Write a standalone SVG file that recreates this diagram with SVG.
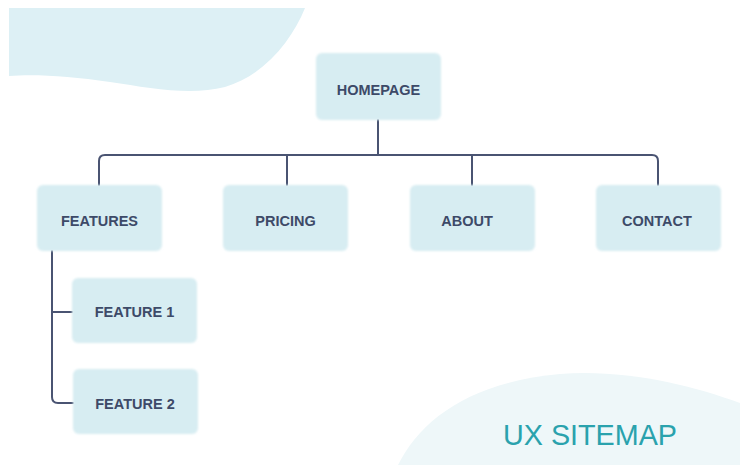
<svg xmlns="http://www.w3.org/2000/svg" width="740" height="465" viewBox="0 0 740 465">
<defs>
<filter id="soft" x="-10%" y="-10%" width="120%" height="120%"><feGaussianBlur stdDeviation="0.9"/></filter>
<style>
.box{fill:#d7edf2;filter:url(#soft)}
.lbl{font-family:"Liberation Sans",Arial,sans-serif;font-weight:bold;font-size:14.5px;fill:#3d4a68;text-anchor:middle}
.wire{fill:none;stroke:#4a5472;stroke-width:2;stroke-linecap:round}
</style>
</defs>
<rect width="740" height="465" fill="#ffffff"/>
<path d="M9,8 L305,8 C292,40 265,75 225,87 C190,96 150,88 110,82 C70,76 35,74 9,76 Z" fill="#ddf0f5"/>
<path d="M398,465 C420,420 470,382 560,374 C625,369 690,385 740,403 L740,465 Z" fill="#eef7f9"/>
<text x="503" y="445" font-family="'Liberation Sans',Arial,sans-serif" font-size="30" fill="#2aa2ad" textLength="174" lengthAdjust="spacingAndGlyphs">UX SITEMAP</text>
<g id="connectors">
<path class="wire" d="M378,120 V155"/>
<path class="wire" d="M99,185 V161 Q99,155 105,155 H652 Q658,155 658,161 V185"/>
<path class="wire" d="M287,155 V185"/>
<path class="wire" d="M472,155 V185"/>
<path class="wire" d="M52,251 V397 Q52,403 58,403 H73"/>
<path class="wire" d="M52,312 H72"/>
</g>
<g id="homepage"><rect class="box" x="316" y="53" width="125" height="67" rx="6"/><text class="lbl" x="378.5" y="95">HOMEPAGE</text></g>
<g id="features"><rect class="box" x="37" y="185" width="125" height="66" rx="6"/><text class="lbl" x="99.5" y="226">FEATURES</text></g>
<g id="pricing"><rect class="box" x="223" y="185" width="125" height="66" rx="6"/><text class="lbl" x="285.5" y="226">PRICING</text></g>
<g id="about"><rect class="box" x="410" y="185" width="125" height="66" rx="6"/><text class="lbl" x="467" y="226">ABOUT</text></g>
<g id="contact"><rect class="box" x="596" y="185" width="125" height="66" rx="6"/><text class="lbl" x="657" y="226">CONTACT</text></g>
<g id="feature1"><rect class="box" x="72" y="278" width="125" height="65" rx="6"/><text class="lbl" x="134.5" y="317">FEATURE 1</text></g>
<g id="feature2"><rect class="box" x="73" y="369" width="125" height="65" rx="6"/><text class="lbl" x="135" y="409">FEATURE 2</text></g>
</svg>
